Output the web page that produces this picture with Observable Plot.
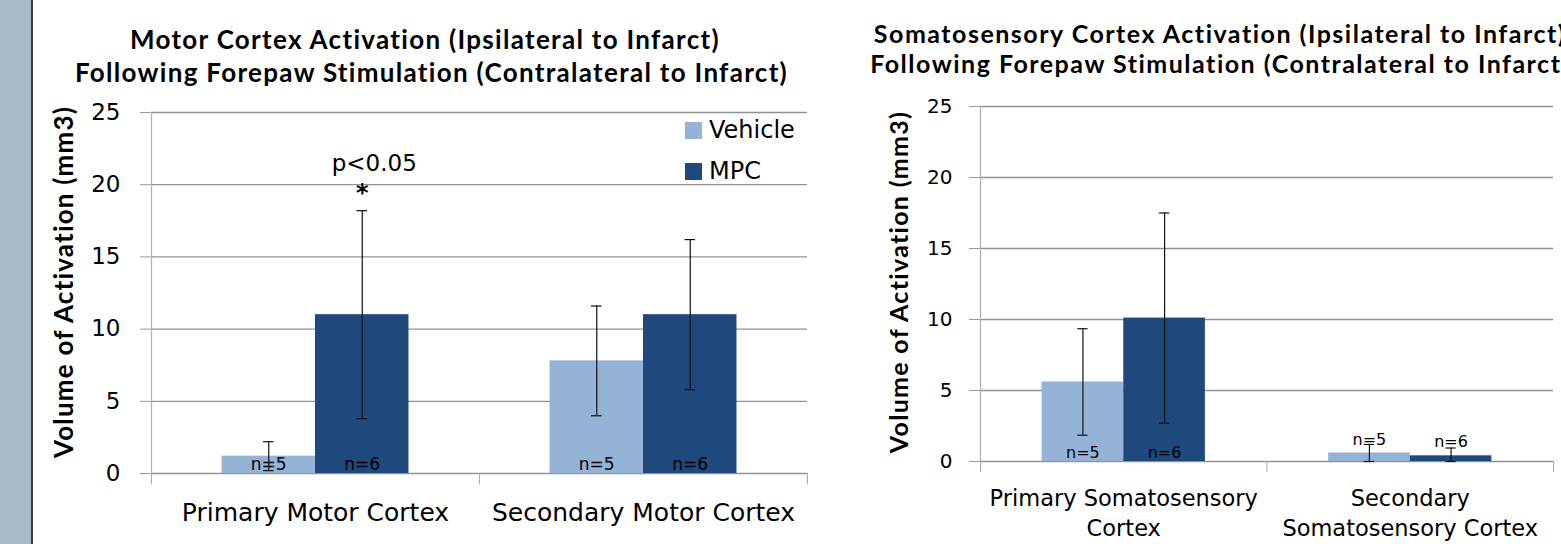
<!DOCTYPE html>
<html><head><meta charset="utf-8">
<script src="https://cdn.jsdelivr.net/npm/d3@7"></script>
<script src="https://cdn.jsdelivr.net/npm/@observablehq/plot@0.6"></script>
<style>
html,body{margin:0;padding:0;background:#fff;overflow:hidden}
#page{position:relative;width:1561px;height:544px;overflow:hidden;background:#fff}
.band{position:absolute;left:0;top:0;width:31px;height:544px;background:#A9B9CA;border-right:2px solid #3b3b3b}
.title{position:absolute;font-family:Lato;font-weight:bold;text-align:center;white-space:nowrap;color:#000}
.ylab{position:absolute;font-family:Lato;font-weight:bold;white-space:nowrap;color:#000;transform:translate(-50%,-50%) rotate(-90deg)}
.chart{position:absolute;top:0}
.sw{position:absolute;width:17px;height:17px}
.lt{position:absolute;font-family:"DejaVu Sans";font-size:24px;line-height:28px;color:#000;white-space:nowrap}
</style></head>
<body><div id="page">
<div class="band"></div>
<div class="title" id="t1" style="left:75px;width:700px;top:23px;font-size:26px;line-height:33px;letter-spacing:1.3px">Motor Cortex Activation (Ipsilateral to Infarct)<br>Following Forepaw Stimulation (Contralateral to Infarct)</div>
<div class="title" id="t2" style="left:820px;width:800px;top:18px;font-size:25px;line-height:30px;letter-spacing:1.5px">Somatosensory Cortex Activation (Ipsilateral to Infarct)<br>Following Forepaw Stimulation (Contralateral to Infarct)</div>
<div class="ylab" style="left:63px;top:282px;font-size:26px;letter-spacing:1.2px">Volume of Activation (mm3)</div>
<div class="ylab" style="left:898px;top:282px;font-size:25px;letter-spacing:1.3px">Volume of Activation (mm3)</div>
<div id="c1" class="chart" style="left:34px"></div>
<div id="c2" class="chart" style="left:840px"></div>
<div id="legend"></div>
</div>
<script>
// ---- data ----
const groups = ["Vehicle", "MPC"];
const groupColors = ["#95B3D7", "#1F497D"];
const groupN = [5, 6];
const yTicks = [0, 5, 10, 15, 20, 25];

const motorCategories = ["Primary Motor Cortex", "Secondary Motor Cortex"];
const motorVehicle = [1.2, 7.8];
const motorVehicleErr = [1.0, 3.8];
const motorMPC = [11.0, 11.0];
const motorMPCErr = [7.2, 5.2];

const somatoCategories = ["Primary Somatosensory\nCortex", "Secondary\nSomatosensory Cortex"];
const somatoVehicle = [5.6, 0.6];
const somatoVehicleErr = [3.75, 0.6];
const somatoMPC = [10.1, 0.4];
const somatoMPCErr = [7.4, 0.55];

const significance = {label: "p<0.05", star: "*", category: 0, group: 1};

function rowsOf(cats, series, errs) {
  const rows = [];
  cats.forEach((c, i) => groups.forEach((g, k) => {
    rows.push({i, k, cat: c, group: g, value: series[k][i], err: errs[k][i], n: "n=" + groupN[k]});
  }));
  return rows;
}

const BAR = 0.285, GAP = (1 - 2 * BAR) / 2;
const x1 = d => d.i + GAP + d.k * BAR;
const x2 = d => d.i + GAP + (d.k + 1) * BAR;
const xc = d => d.i + GAP + (d.k + 0.5) * BAR;

function chart({cats, rows, width, mL, mR, mT, mB, tickFont, labelFont, labelLine, nFont, tickPad, labelPad, cap, sig}) {
  const marks = [
    Plot.gridY({ticks: yTicks, stroke: "#929292", strokeOpacity: 1, strokeWidth: 1.3}),
    Plot.ruleX([0], {x: d => d, y1: 0, y2: 25, stroke: "#b3b3b3", strokeWidth: 1.3}),
    Plot.rectY(rows, {x1, x2, y1: 0, y2: "value", fill: d => groupColors[d.k]}),
    Plot.ruleX(rows, {x: xc, y1: d => Math.max(0, d.value - d.err), y2: d => d.value + d.err, stroke: "#111", strokeWidth: 1.2}),
    Plot.ruleY(rows, {y: d => d.value + d.err, x1: d => xc(d) - cap, x2: d => xc(d) + cap, stroke: "#111", strokeWidth: 1.2}),
    Plot.ruleY(rows, {y: d => Math.max(0, d.value - d.err), x1: d => xc(d) - cap, x2: d => xc(d) + cap, stroke: "#111", strokeWidth: 1.2}),
    Plot.text(rows, {x: xc, y: d => d.value < 1 ? d.value + 0.95 : 0.62, text: "n", fontSize: nFont, fill: "#000", lineAnchor: "middle"}),
    Plot.axisY({ticks: yTicks, tickSize: 11, tickPadding: tickPad, fontSize: tickFont, stroke: "#999", label: null}),
    Plot.axisX({ticks: [0, 1, 2], tickSize: 11, tickFormat: () => "", stroke: "#aaa", label: null}),
    Plot.axisX({ticks: [0.5, 1.5], tickSize: 0, tickPadding: labelPad, tickFormat: d => cats[Math.floor(d)], fontSize: labelFont, lineHeight: labelLine, label: null})
  ];
  if (sig) {
    const r = rows.find(d => d.i === sig.category && d.k === sig.group);
    const top = r.value + r.err;
    marks.push(Plot.text([r], {x: xc, y: top + 1.2, text: () => sig.star, fontSize: 24, fontWeight: "bold", lineAnchor: "middle"}));
    marks.push(Plot.text([r], {x: xc, y: top + 3.25, text: () => sig.label, fontSize: 23, lineAnchor: "middle", dx: 12}));
  }
  return Plot.plot({
    width, height: 544,
    marginLeft: mL, marginRight: mR, marginTop: mT, marginBottom: mB,
    x: {domain: [0, 2]},
    y: {domain: [0, 25]},
    style: {fontFamily: "DejaVu Sans", background: "none", overflow: "visible", color: "#000"},
    marks
  });
}

document.getElementById("c1").append(chart({
  cats: motorCategories,
  rows: rowsOf(motorCategories, [motorVehicle, motorMPC], [motorVehicleErr, motorMPCErr]),
  width: 806, mL: 117, mR: 33, mT: 112, mB: 71,
  tickFont: 23, labelFont: 25, labelLine: 1.3, nFont: 17, tickPad: 20, labelPad: 24, cap: 0.016, sig: significance
}));
document.getElementById("c2").append(chart({
  cats: somatoCategories,
  rows: rowsOf(somatoCategories, [somatoVehicle, somatoMPC], [somatoVehicleErr, somatoMPCErr]),
  width: 721, mL: 140, mR: 8, mT: 106, mB: 83,
  tickFont: 20, labelFont: 22.5, labelLine: 1.35, nFont: 16, tickPad: 17, labelPad: 23, cap: 0.018, sig: null
}));

// legend (left chart)
const lg = document.getElementById("legend");
groups.forEach((g, k) => {
  const sw = document.createElement("div");
  sw.className = "sw";
  sw.style.left = "685px"; sw.style.top = (122 + k * 41) + "px";
  sw.style.background = groupColors[k];
  lg.append(sw);
  const t = document.createElement("div");
  t.className = "lt";
  t.style.left = "709px"; t.style.top = (116 + k * 41) + "px";
  t.textContent = g;
  lg.append(t);
});
</script>
</body></html>
